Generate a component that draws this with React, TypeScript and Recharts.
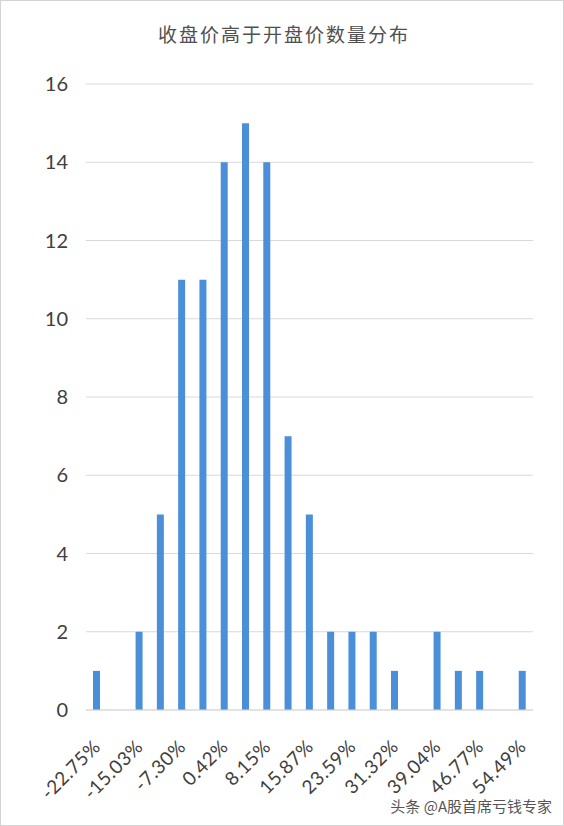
import { BarChart, Bar, XAxis, YAxis, CartesianGrid } from 'recharts';

// 收盘价高于开盘价的幅度区间（每两个只标注一个）
const bins = [
  '-22.75%', '-18.89%', '-15.03%', '-11.16%', '-7.30%', '-3.44%', '0.42%',
  '4.28%', '8.15%', '12.01%', '15.87%', '19.73%', '23.59%', '27.46%',
  '31.32%', '35.18%', '39.04%', '42.91%', '46.77%', '50.63%', '54.49%'
];
const counts = [1, 0, 2, 5, 11, 11, 14, 15, 14, 7, 5, 2, 2, 2, 1, 0, 2, 1, 1, 0, 1];
const yTicks = [0, 2, 4, 6, 8, 10, 12, 14, 16];

const data = bins.map((bin, i) => ({ bin, count: counts[i] }));

const FONT = 'Lato, "Noto Sans", sans-serif';

function AngledTick(props: any) {
  const { x, y, payload } = props;
  return (
    <g transform={`translate(${x + 5},${y + 30})`}>
      <text
        transform="rotate(-45)"
        textAnchor="end"
        fill="#404040"
        fontSize={19}
        letterSpacing={0.5}
        fontFamily={FONT}
      >
        {payload.value}
      </text>
    </g>
  );
}

export default function App() {
  return (
    <div
      style={{
        position: 'absolute',
        left: 0,
        top: 0,
        width: 562,
        height: 824,
        border: '1px solid #d4d4d4',
        background: '#fff',
        overflow: 'hidden'
      }}
    >
      <div
        style={{
          position: 'absolute',
          top: 19,
          left: 2,
          width: '100%',
          textAlign: 'center',
          fontFamily: '"Noto Sans CJK SC", sans-serif',
          fontSize: 19,
          letterSpacing: 2,
          color: '#505050'
        }}
      >
        收盘价高于开盘价数量分布
      </div>
      <BarChart
        width={562}
        height={824}
        data={data}
        margin={{ top: 83, right: 30, bottom: 0, left: 0 }}
        barCategoryGap={0}
      >
        <CartesianGrid vertical={false} stroke="#d9d9d9" />
        <XAxis
          dataKey="bin"
          interval={1}
          tick={<AngledTick />}
          tickLine={false}
          axisLine={{ stroke: '#d9d9d9' }}
          height={115}
        />
        <YAxis
          domain={[0, 16]}
          ticks={yTicks}
          width={85}
          tickSize={0}
          tickMargin={18}
          axisLine={false}
          tickLine={false}
          tick={{ fill: '#404040', fontSize: 20, fontFamily: FONT }}
        />
        <Bar dataKey="count" fill="#4a8fd8" barSize={7} isAnimationActive={false} />
      </BarChart>
      <div
        style={{
          position: 'absolute',
          right: 11,
          bottom: 9,
          fontFamily: '"Noto Sans CJK SC", sans-serif',
          fontSize: 15,
          color: '#555',
          textShadow: '0 0 2px #fff'
        }}
      >
        头条 @A股首席亏钱专家
      </div>
    </div>
  );
}
